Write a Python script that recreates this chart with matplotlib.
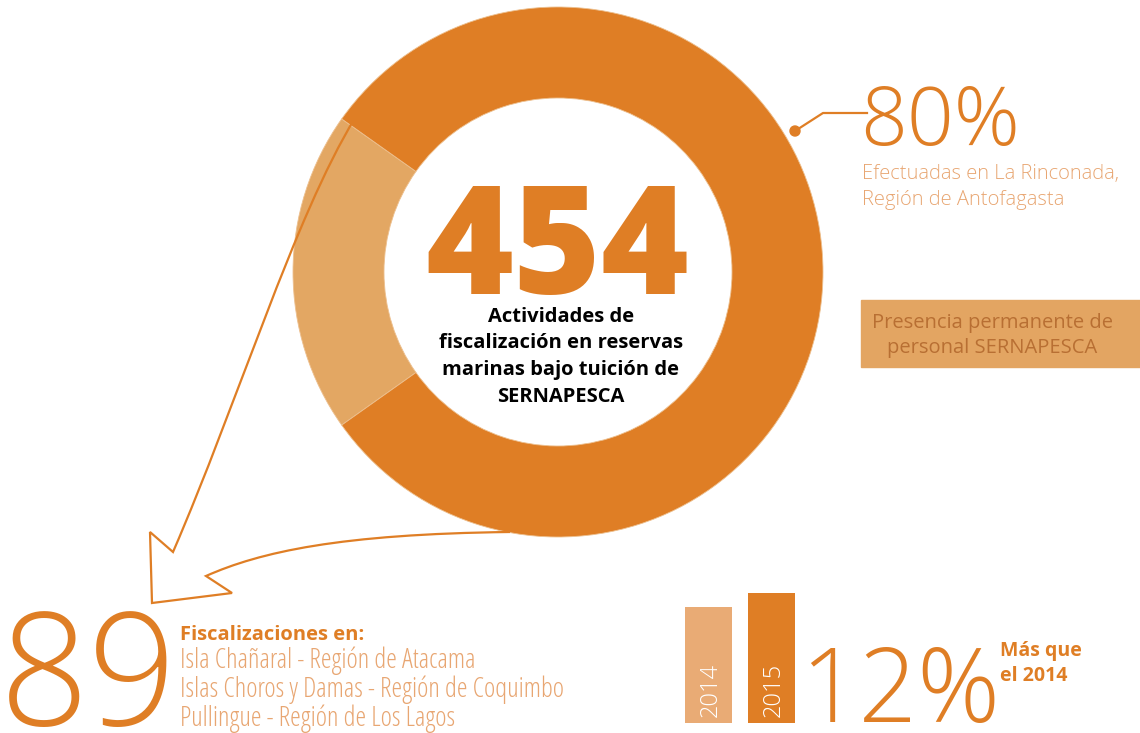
import matplotlib
matplotlib.use("Agg")
import matplotlib.pyplot as plt
from matplotlib.path import Path
from matplotlib.patches import PathPatch, Rectangle, Circle

# data
total = 454
segments = [89, 365]          # otras reservas, La Rinconada
segment_colors = ["#E3A763", "#DF7E25"]
years = ["2014", "2015"]
year_values = [405, 454]
year_colors = ["#E9AB75", "#DF7E25"]
pct_rinconada = "80%"
pct_growth = "12%"
lugares = ["Isla Chañaral - Región de Atacama",
           "Islas Choros y Damas - Región de Coquimbo",
           "Pullingue - Región de Los Lagos"]

ORANGE = "#DF7E25"
LIGHT = "#E8A672"
W, H = 1140, 733

fig = plt.figure(figsize=(W / 100, H / 100), dpi=100)
fig.patch.set_facecolor("white")

# donut
cx, cy, R, r_in = 558, 272, 265, 174
ax_pie = fig.add_axes([(cx - R) / W, (H - cy - R) / H, 2 * R / W, 2 * R / H])
start = 180 - segments[0] / total * 180
ax_pie.pie(segments, colors=segment_colors, startangle=start, radius=1,
           wedgeprops=dict(width=(R - r_in) / R, edgecolor="#EDC08F", linewidth=0.6))
ax_pie.set_xlim(-1, 1)
ax_pie.set_ylim(-1, 1)
ax_pie.set_aspect("auto")
ax_pie.axis("off")

# year bars
ax_bar = fig.add_axes([677 / W, (H - 723) / H, 126 / W, 130 / H])
ax_bar.bar(range(len(years)), year_values, width=0.746, color=year_colors)
ax_bar.set_xlim(-0.5, 1.5)
ax_bar.set_ylim(0, max(year_values))
ax_bar.axis("off")
for i, y in enumerate(years):
    ax_bar.text(i + 0.03, 20, y, rotation=90, fontsize=17, fontweight="light",
                color="white", ha="center", va="bottom", family="Open Sans")

# overlay axes in pixel coords (y down) for text and annotations
ax = fig.add_axes([0, 0, 1, 1])
ax.set_xlim(0, W)
ax.set_ylim(H, 0)
ax.patch.set_alpha(0)
ax.axis("off")

ax.text(557, 294, str(total), fontsize=108, fontweight="heavy", color=ORANGE,
        ha="center", va="baseline", family="Open Sans")
centro = ["Actividades de", "fiscalización en reservas",
          "marinas bajo tuición de", "SERNAPESCA"]
for i, t in enumerate(centro):
    ax.text(561, 322 + i * 26.5, t, fontsize=14.5, fontweight="bold", color="black",
            ha="center", va="baseline", family="Open Sans")

# outline arrow from the light segment to the "89" block
verts = [(355, 118), (294, 218), (238, 402), (173, 552),
         (150, 532), (152, 603), (232, 593), (206, 576),
         (260, 552), (340, 534), (510, 532)]
codes = [Path.MOVETO, Path.CURVE4, Path.CURVE4, Path.CURVE4,
         Path.LINETO, Path.LINETO, Path.LINETO, Path.LINETO,
         Path.CURVE4, Path.CURVE4, Path.CURVE4]
ax.add_patch(PathPatch(Path(verts, codes), facecolor="none", edgecolor=ORANGE,
                       lw=1.6, joinstyle="miter"))

# 80% callout
ax.add_patch(Circle((795, 131), 5, color=ORANGE))
ax.plot([795, 823, 867], [131, 113, 113], color=ORANGE, lw=1.6)
ax.text(860, 145, pct_rinconada, fontsize=59, fontweight="light", color=ORANGE,
        ha="left", va="baseline", family="Open Sans")
ax.text(862, 179, "Efectuadas en La Rinconada,", fontsize=14.5, fontweight="light",
        color=LIGHT, ha="left", va="baseline", family="Open Sans")
ax.text(862, 205, "Región de Antofagasta", fontsize=14.5, fontweight="light",
        color=LIGHT, ha="left", va="baseline", family="Open Sans")

ax.add_patch(Rectangle((861, 300), 279, 67, color="#E3A562"))
ax.text(992, 328, "Presencia permanente de", fontsize=14.5,
        color="#B86F33", ha="center", va="baseline", family="Open Sans")
ax.text(992, 353, "personal SERNAPESCA", fontsize=14.5,
        color="#B86F33", ha="center", va="baseline", family="Open Sans")

# 89 block
ax.text(0, 725, str(segments[0]), fontsize=112, fontweight="light", color=ORANGE,
        ha="left", va="baseline", family="Open Sans")
ax.text(180, 640, "Fiscalizaciones en:", fontsize=14.5, fontweight="bold",
        color=ORANGE, ha="left", va="baseline", family="Open Sans")
for i, t in enumerate(lugares):
    ax.text(180, 668 + i * 29, t, fontsize=19.5, fontweight="light", fontstretch="condensed",
            color=LIGHT, ha="left", va="baseline", family="Open Sans")

ax.text(800, 722, pct_growth, fontsize=74, fontweight="light", color=ORANGE,
        ha="left", va="baseline", family="Open Sans")
ax.text(1000, 656, "Más que", fontsize=14, fontweight="bold", color=ORANGE,
        ha="left", va="baseline", family="Open Sans")
ax.text(1000, 681, "el 2014", fontsize=14, fontweight="bold", color=ORANGE,
        ha="left", va="baseline", family="Open Sans")

fig.savefig("out.png", dpi=100, facecolor="white")
